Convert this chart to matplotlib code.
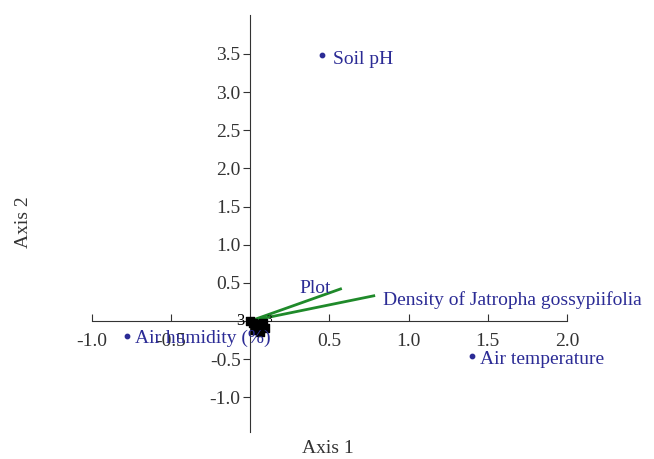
import matplotlib.pyplot as plt

plt.rcParams['font.family'] = ['Liberation Serif', 'DejaVu Serif']

# environmental variables (points)
env_names = ['Soil pH', 'Air temperature', 'Air humidity (%)']
env_x = [0.45, 1.40, -0.78]
env_y = [3.48, -0.46, -0.20]

# fitted vectors (green lines)
vec_names = ['Plot', 'Density of Jatropha gossypiifolia']
vec_x = [0.57, 0.78]
vec_y = [0.42, 0.33]

# sample scores clustered near the origin
site_x = [0.00, 0.02, 0.04, 0.07, 0.05, 0.09, 0.03, 0.06, 0.08]
site_y = [0.00, -0.03, -0.06, -0.04, -0.10, -0.09, -0.12, -0.15, -0.02]

xticks = [-1.0, -0.5, 0.5, 1.0, 1.5, 2.0]
yticks = [-1.0, -0.5, 0.5, 1.0, 1.5, 2.0, 2.5, 3.0, 3.5]

txt_col = '#2b2b95'
axis_col = '#333333'
fs = 14

fig = plt.figure(figsize=(6.54, 4.59), dpi=100)
ax = fig.add_axes([0.0917, 0.0588, 0.887, 0.9085])
ax.set_xlim(-1.202, 2.462)
ax.set_ylim(-1.455, 4.01)

for s in ['top', 'right']:
    ax.spines[s].set_visible(False)
ax.spines['left'].set_position(('data', 0))
ax.spines['bottom'].set_position(('data', 0))
ax.spines['bottom'].set_bounds(-1.0, 2.0)
ax.spines['left'].set_color(axis_col)
ax.spines['bottom'].set_color(axis_col)

ax.set_xticks(xticks)
ax.set_xticklabels([f'{t:.1f}' for t in xticks])
ax.set_yticks(yticks)
ax.set_yticklabels([f'{t:.1f}' for t in yticks])
ax.tick_params(axis='x', direction='in', length=5, labelsize=fs, color=axis_col, labelcolor=axis_col, pad=9)
ax.tick_params(axis='y', direction='out', length=5, labelsize=fs, color=axis_col, labelcolor=axis_col, pad=2)

# green vectors
for vx, vy in zip(vec_x, vec_y):
    ax.plot([0, vx], [0, vy], color='#1f8a2a', lw=2)
ax.text(0.31, 0.42, vec_names[0], color=txt_col, fontsize=fs, va='center')
ax.text(0.84, 0.27, vec_names[1], color=txt_col, fontsize=fs, va='center')

# sample points near origin
ax.scatter(site_x, site_y, marker='s', s=28, color='black', zorder=3)
ax.text(-0.04, 0.0, '3', fontsize=12, ha='right', va='center', color='black')
ax.text(0.10, 0.02, '3', fontsize=8, ha='left', va='center', color='black')

ax.scatter(env_x, env_y, s=10, color=txt_col, zorder=4)
ax.text(env_x[0] + 0.07, env_y[0] - 0.05, env_names[0], color=txt_col, fontsize=fs, va='center')
ax.text(env_x[1] + 0.05, env_y[1] - 0.05, env_names[1], color=txt_col, fontsize=fs, va='center')
ax.text(env_x[2] + 0.05, env_y[2] - 0.03, env_names[2], color=txt_col, fontsize=fs, va='center')

fig.text(0.502, 0.022, 'Axis 1', ha='center', va='center', fontsize=fs, color=axis_col)
fig.text(0.036, 0.516, 'Axis 2', ha='center', va='center', rotation=90, fontsize=fs, color=axis_col)

fig.savefig('out.png', dpi=100)
